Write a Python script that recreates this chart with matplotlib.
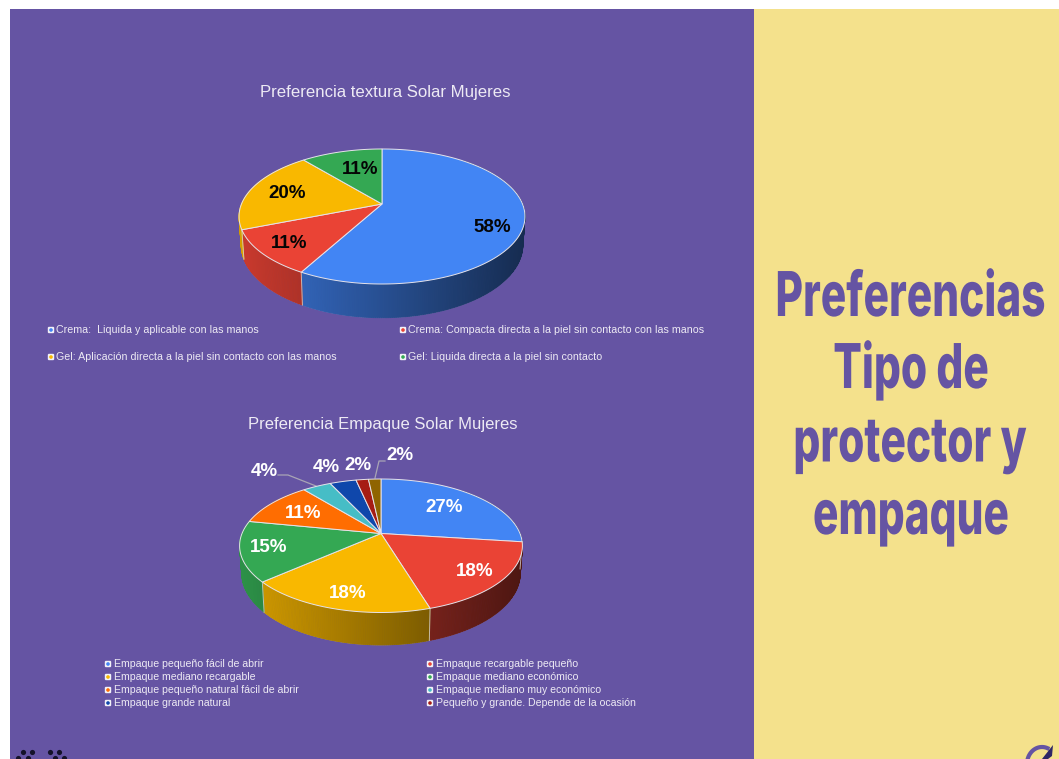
import numpy as np
import matplotlib
matplotlib.use("Agg")
import matplotlib.pyplot as plt
from matplotlib.patches import Polygon, Rectangle, FancyBboxPatch, Circle
from matplotlib.colors import to_rgb
from matplotlib.font_manager import FontProperties
from matplotlib.text import Text
from matplotlib.textpath import TextPath
from matplotlib.transforms import Affine2D, Bbox

# Chart contents
texture_title = "Preferencia textura Solar Mujeres"
texture_labels = ["Crema:  Liquida y aplicable con las manos",
                  "Crema: Compacta directa a la piel sin contacto con las manos",
                  "Gel: Aplicación directa a la piel sin contacto con las manos",
                  "Gel: Liquida directa a la piel sin contacto"]
texture_values = [58, 11, 20, 11]
texture_colors = ["#4285F4", "#EA4335", "#F9B800", "#34A853"]

package_title = "Preferencia Empaque Solar Mujeres"
package_labels = ["Empaque pequeño fácil de abrir", "Empaque recargable pequeño",
                  "Empaque mediano recargable", "Empaque mediano económico",
                  "Empaque pequeño natural fácil de abrir", "Empaque mediano muy económico",
                  "Empaque grande natural", "Pequeño y grande. Depende de la ocasión"]
package_values = [27.0, 18.3, 18.2, 14.6, 11.0, 3.9, 3.6, 1.7, 1.7]
package_colors = ["#4285F4", "#EA4335", "#F9B800", "#34A853", "#FF6D01",
                  "#46BDC6", "#0F47AB", "#A61C14", "#8F6400"]
package_legend_colors = ["#4285F4", "#EA4335", "#F9B800", "#34A853",
                         "#FF6D01", "#46BDC6", "#0F47AB", "#A61C14"]

heading_lines = ["Preferencias", "Tipo de", "protector y", "empaque"]

PURPLE = "#6554A3"
CREAM = "#F4E18C"
TEXT_LIGHT = "#EDEAF4"

fig = plt.figure(figsize=(10.59, 7.59), dpi=100, facecolor="white")
ax = fig.add_axes([0, 0, 1, 1])
ax.set_xlim(0, 1059)
ax.set_ylim(759, 0)
ax.axis("off")

ax.add_patch(Rectangle((10, 9), 744, 750, fc=PURPLE, ec="none", zorder=0))
ax.add_patch(Rectangle((754, 9), 305, 750, fc=CREAM, ec="none", zorder=0))


class CondensedText(Text):
    """Text whose glyphs are squeezed horizontally, centred on x, with y as baseline."""

    def __init__(self, *args, squeeze=1.0, **kwargs):
        super().__init__(*args, **kwargs)
        self.squeeze = squeeze

    def _glyph_path(self):
        size_px = self.get_fontsize() * self.figure.dpi / 72
        path = TextPath((0, 0), self.get_text(), size=size_px, prop=self.get_fontproperties())
        box = path.get_extents()
        return path, Affine2D().translate(-box.x0 - box.width / 2, 0).scale(self.squeeze, 1)

    def _get_layout(self, renderer):
        # Extents relative to the anchor point, so clipping and tight boxes see the squeezed size
        path, squeeze = self._glyph_path()
        return Bbox(path.transformed(squeeze).get_extents().get_points()), [], 0

    def draw(self, renderer):
        path, squeeze = self._glyph_path()
        x, y = self.get_transform().transform(self.get_position())
        gc = renderer.new_gc()
        gc.set_linewidth(0)
        renderer.draw_path(gc, path, squeeze + Affine2D().translate(x, y), to_rgb(self.get_color()))
        gc.restore()


def project(theta, cx, cy, radius, height, k):
    """Perspective projection of a disc point; theta runs clockwise from 12 o'clock."""
    u, v = np.sin(theta), np.cos(theta)
    w = 1 + k * v
    return cx + radius * u / w, cy - height * v / w, w


def draw_pie(values, colors, cx, cy, radius, height, k, depth):
    shares = np.asarray(values, dtype=float)
    edges = np.concatenate([[0], np.cumsum(shares) / shares.sum()]) * 2 * np.pi
    left = cx - radius / np.sqrt(1 - k ** 2)
    span = 2 * radius / np.sqrt(1 - k ** 2)

    # Side wall: short shaded strips, darker towards the right
    for start, stop, color in zip(edges[:-1], edges[1:], colors):
        base = np.array(to_rgb(color))
        steps = max(int((stop - start) * 80), 2)
        th = np.linspace(start, stop, steps + 1)
        x, y, w = project(th, cx, cy, radius, height, k)
        xb = cx + (x - cx) * 0.985
        yb = y + depth / w
        for i in range(steps):
            if np.cos(th[i]) > 0.75 and np.cos(th[i + 1]) > 0.75:
                continue
            t = np.clip(((x[i] + x[i + 1]) / 2 - left) / span, 0, 1)
            shade = base * (0.86 - 0.53 * t)
            ax.add_patch(Polygon([(x[i], y[i]), (x[i + 1], y[i + 1]),
                                  (xb[i + 1], yb[i + 1]), (xb[i], yb[i])],
                                 closed=True, fc=shade, ec=shade, lw=0.6, zorder=2))
        # Faint seam between neighbouring wall segments
        if np.cos(stop) < -0.1:
            ax.plot([x[-1], xb[-1]], [y[-1], yb[-1]], color="#D9D5CF", lw=0.7, alpha=0.8, zorder=3)

    # Faint rim along the foot of the wall
    th = np.linspace(np.pi * 0.5, np.pi * 1.5, 200)
    x, y, w = project(th, cx, cy, radius, height, k)
    ax.plot(cx + (x - cx) * 0.985, y + depth / w, color="#C9C6DC", lw=0.5, alpha=0.6, zorder=1.5)

    # Top face
    for start, stop, color in zip(edges[:-1], edges[1:], colors):
        th = np.linspace(start, stop, max(int((stop - start) * 80), 2) + 1)
        x, y, _ = project(th, cx, cy, radius, height, k)
        pts = np.column_stack([np.r_[cx, x], np.r_[cy, y]])
        ax.add_patch(Polygon(pts, closed=True, fc=color, ec="#E6E3EA", lw=0.7, zorder=4))


def draw_legend(labels, colors, xs, ys, size, gap):
    for i, (label, color) in enumerate(zip(labels, colors)):
        px, py = xs[i % 2], ys[i // 2]
        ax.add_patch(FancyBboxPatch((px - 2.6, py - 2.6), 5.2, 5.2,
                                    boxstyle="round,pad=0.6,rounding_size=1.2",
                                    fc="#F3F2F8", ec="none", zorder=5))
        ax.add_patch(Circle((px, py), 1.8, fc=color, ec="none", zorder=6))
        ax.text(px + gap, py, label, color=TEXT_LIGHT, fontsize=size,
                family="Liberation Sans", va="center", ha="left", zorder=6)


# Upper pie
ax.text(385, 93, texture_title, color=TEXT_LIGHT, fontsize=12.1,
        family="Liberation Sans", ha="center", va="center")
draw_pie(texture_values, texture_colors, 382, 204, 140.5, 65.2, 0.185, 27.5)
texture_label_xy = [(492, 228), (289, 243), (287, 194), (360, 169)]
for value, (lx, ly) in zip(texture_values, texture_label_xy):
    ax.text(lx, ly, f"{value:.0f}%", color="#050505", fontsize=13.5, fontweight="bold",
            family="Liberation Sans", ha="center", va="center", zorder=7)
draw_legend(texture_labels, texture_colors, (51, 403), (330, 357), 7.7, 5.5)

# Lower pie
ax.text(383, 424, package_title, color=TEXT_LIGHT, fontsize=12.0,
        family="Liberation Sans", ha="center", va="center")
draw_pie(package_values, package_colors, 381, 533.5, 139, 64.5, 0.1835, 26.5)
package_label_xy = [(444, 508), (475, 572), (348, 594), (269, 548), (303, 514),
                    (264, 471), (326, 468), (358, 466), (400, 456)]
for value, (lx, ly) in zip(package_values, package_label_xy):
    ax.text(lx, ly, f"{value:.0f}%", color="white", fontsize=13.5, fontweight="bold",
            family="Liberation Sans", ha="center", va="center", zorder=7)
ax.plot([278, 288, 316], [475, 475, 486], color="#A9A5B5", lw=0.9, zorder=3)
ax.plot([385, 379, 375], [461, 461, 478], color="#A9A5B5", lw=0.9, zorder=3)
draw_legend(package_labels, package_legend_colors, (108, 430), (664, 677, 690, 703), 7.6, 6)

# Heading on the right-hand panel
for line, y in zip(heading_lines, (316, 388, 461.5, 534)):
    ax.add_artist(CondensedText(911, y, line, color=PURPLE,
                                fontproperties=FontProperties(family="Inter", weight=800, size=44.5),
                                squeeze=0.685, zorder=2))

# Decorations cut off by the bottom edge
dots_x = [23, 32, 50, 59, 18, 28, 55, 64]
dots_y = [752, 752, 752, 752, 758, 758, 758, 758]
ax.scatter(dots_x, dots_y, s=14, color="#14122A", linewidths=0, zorder=3)
arc = np.linspace(np.pi * 0.98, np.pi * 1.62, 40)
ax.plot(1042 + 15 * np.cos(arc), 764 + 17 * np.sin(arc), color="#6554A3", lw=3, zorder=3)
ax.add_patch(Polygon([(1042, 759), (1053, 745), (1052, 756), (1048, 759)],
                     closed=True, fc="#2E2666", ec="none", zorder=3))

fig.savefig("out.png", dpi=100)
